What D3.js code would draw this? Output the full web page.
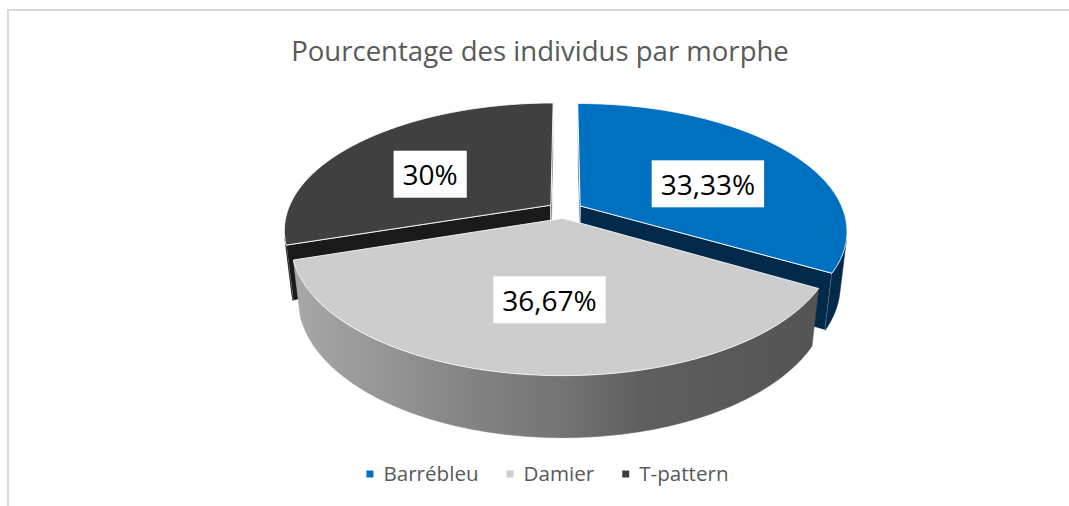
<!DOCTYPE html>
<html>
<head>
<meta charset="utf-8">
<script src="https://cdn.jsdelivr.net/npm/d3@7"></script>
<style>
  html, body { margin: 0; padding: 0; background: #ffffff; }
  svg { display: block; }
</style>
</head>
<body>
<svg id="chart" width="1069" height="506"></svg>
<script>
// ---- data ----
const categories = ["Barrébleu", "Damier", "T-pattern"];
const values = [33.33, 36.67, 30];
const titleText = "Pourcentage des individus par morphe";

// ---- styling ----
const topColors = ["#0070C0", "#CECDCE", "#404040"];
const sideFills = ["#00294A", "url(#damierSide)", "#1A1A1A"];
const textGrey = "#595959";
const fontFamily = "'Open Sans', 'Noto Sans', 'DejaVu Sans', sans-serif";

const svg = d3.select("#chart");
const W = 1069, Hh = 506;

// chart frame (light grey border)
svg.append("line").attr("x1", 8).attr("y1", 10).attr("x2", W).attr("y2", 10)
  .attr("stroke", "#D9D9D9").attr("stroke-width", 2);
svg.append("line").attr("x1", 8).attr("y1", 9).attr("x2", 8).attr("y2", Hh)
  .attr("stroke", "#D9D9D9").attr("stroke-width", 2);

// title, sized to its box width
const title = svg.append("text")
  .attr("x", 540).attr("y", 61)
  .attr("text-anchor", "middle")
  .attr("font-family", fontFamily)
  .attr("font-weight", 400)
  .attr("font-size", 26)
  .attr("fill", textGrey)
  .text(titleText);
{
  const len = title.node().getComputedTextLength();
  title.attr("font-size", 26 * 498 / len);
}

// ---- 3D pie projection ----
const view = { cx: 565, cy: 210, K: 1210, D: 4.6, tilt: 28 * Math.PI / 180, depth: 0.236, explode: 0.067 };
const sinT = Math.sin(view.tilt), cosT = Math.cos(view.tilt);
const cam = [0, view.D * sinT, view.D * cosT];

function project(p) {
  const d = view.D - p[1] * sinT - p[2] * cosT;
  return [view.cx + view.K * p[0] / d, view.cy + view.K * (p[2] * sinT - p[1] * cosT) / d];
}
function rimPoint(a, off, y) {
  return [off[0] + Math.sin(a), y, off[2] - Math.cos(a)];
}
function facing(n, p) {
  return n[0] * (cam[0] - p[0]) + n[1] * (cam[1] - p[1]) + n[2] * (cam[2] - p[2]) > 0;
}
const step = Math.PI / 360;
function arcPoints(a0, a1, off, y) {
  const n = Math.max(2, Math.ceil((a1 - a0) / step));
  const pts = [];
  for (let i = 0; i <= n; i++) {
    const a = a0 + (a1 - a0) * i / n;
    pts.push(project(rimPoint(a, off, y)));
  }
  return pts;
}

const pie = d3.pie().sort(null).value(d => d);
const arcs = pie(values);
const line = d3.line().curve(d3.curveLinearClosed);

const defs = svg.append("defs");

const slices = arcs.map((s, i) => {
  const a0 = s.startAngle, a1 = s.endAngle;
  const mid = (a0 + a1) / 2;
  const off = [view.explode * Math.sin(mid), 0, -view.explode * Math.cos(mid)];
  const faces = [];
  const yb = -view.depth;

  // cut faces
  const n0 = [-Math.cos(a0), 0, -Math.sin(a0)];
  const n1 = [Math.cos(a1), 0, Math.sin(a1)];
  [[a0, n0], [a1, n1]].forEach(([a, n]) => {
    if (facing(n, off)) {
      faces.push({ kind: "cut", pts: [
        project([off[0], 0, off[2]]),
        project(rimPoint(a, off, 0)),
        project(rimPoint(a, off, yb)),
        project([off[0], yb, off[2]])
      ]});
    }
  });

  // outer curved wall: only the runs facing the camera
  const n = Math.max(2, Math.ceil((a1 - a0) / step));
  let run = null;
  const runs = [];
  for (let k = 0; k <= n; k++) {
    const a = a0 + (a1 - a0) * k / n;
    const vis = facing([Math.sin(a), 0, -Math.cos(a)], rimPoint(a, off, 0));
    if (vis) { if (!run) run = [a, a]; run[1] = a; }
    else if (run) { runs.push(run); run = null; }
  }
  if (run) runs.push(run);
  runs.forEach(([r0, r1]) => {
    if (r1 - r0 < 1e-4) return;
    const top = arcPoints(r0, r1, off, 0);
    const bot = arcPoints(r0, r1, off, yb).reverse();
    faces.push({ kind: "wall", pts: top.concat(bot) });
  });

  // top face
  const topPts = [project([off[0], 0, off[2]])].concat(arcPoints(a0, a1, off, 0));
  return { i, off, faces, topPts };
});

// shaded gradient for the light slice's curved wall
{
  const wall = slices[1].faces.find(f => f.kind === "wall");
  const xs = wall ? wall.pts.map(p => p[0]) : [0, W];
  const g = defs.append("linearGradient").attr("id", "damierSide")
    .attr("gradientUnits", "userSpaceOnUse")
    .attr("x1", d3.min(xs)).attr("y1", 0).attr("x2", d3.max(xs)).attr("y2", 0);
  [[0, "#A8A8A8"], [0.36, "#818181"], [0.51, "#747474"], [0.66, "#5F5F5F"], [1, "#545454"]]
    .forEach(([o, c]) => g.append("stop").attr("offset", o).attr("stop-color", c));
}

const pieG = svg.append("g");
slices.slice().sort((a, b) => a.off[2] - b.off[2]).forEach(sl => {
  const g = pieG.append("g");
  sl.faces.forEach(f => {
    g.append("path").attr("d", line(f.pts))
      .attr("fill", sideFills[sl.i])
      .attr("stroke", f.kind === "cut" ? "#ffffff" : sideFills[sl.i])
      .attr("stroke-opacity", f.kind === "cut" ? 0.85 : 1)
      .attr("stroke-width", f.kind === "cut" ? 1 : 0.6)
      .attr("stroke-linejoin", "round");
  });
  g.append("path").attr("d", line(sl.topPts))
    .attr("fill", topColors[sl.i])
    .attr("stroke", "#ffffff").attr("stroke-opacity", 0.85)
    .attr("stroke-width", 1).attr("stroke-linejoin", "round");
});

// value labels in white boxes, centred on each top face
const fmt = v => String(v).replace(".", ",") + "%";
slices.forEach(sl => {
  const c = d3.polygonCentroid(sl.topPts);
  const g = svg.append("g");
  const t = g.append("text")
    .attr("x", c[0]).attr("y", c[1])
    .attr("text-anchor", "middle").attr("dominant-baseline", "central")
    .attr("font-family", fontFamily).attr("font-size", 28)
    .attr("fill", "#000000")
    .text(fmt(values[sl.i]));
  const w = t.node().getComputedTextLength() + 18;
  g.insert("rect", "text")
    .attr("x", c[0] - w / 2).attr("y", c[1] - 23.5)
    .attr("width", w).attr("height", 47)
    .attr("fill", "#ffffff");
});

// legend
const legend = svg.append("g");
const legendFont = 20.6;
const items = categories.map((name, i) => {
  const g = legend.append("g");
  g.append("rect").attr("width", 7).attr("height", 7).attr("y", -10.5).attr("fill", topColors[i]);
  const t = g.append("text").attr("x", 17).attr("y", 0)
    .attr("font-family", fontFamily).attr("font-size", legendFont)
    .attr("fill", textGrey).text(name);
  return { g, w: 17 + t.node().getComputedTextLength() };
});
const gap = 28;
const total = d3.sum(items, d => d.w) + gap * (items.length - 1);
let lx = 547.5 - total / 2;
items.forEach(it => { it.g.attr("transform", `translate(${lx},481)`); lx += it.w + gap; });
</script>
</body>
</html>
